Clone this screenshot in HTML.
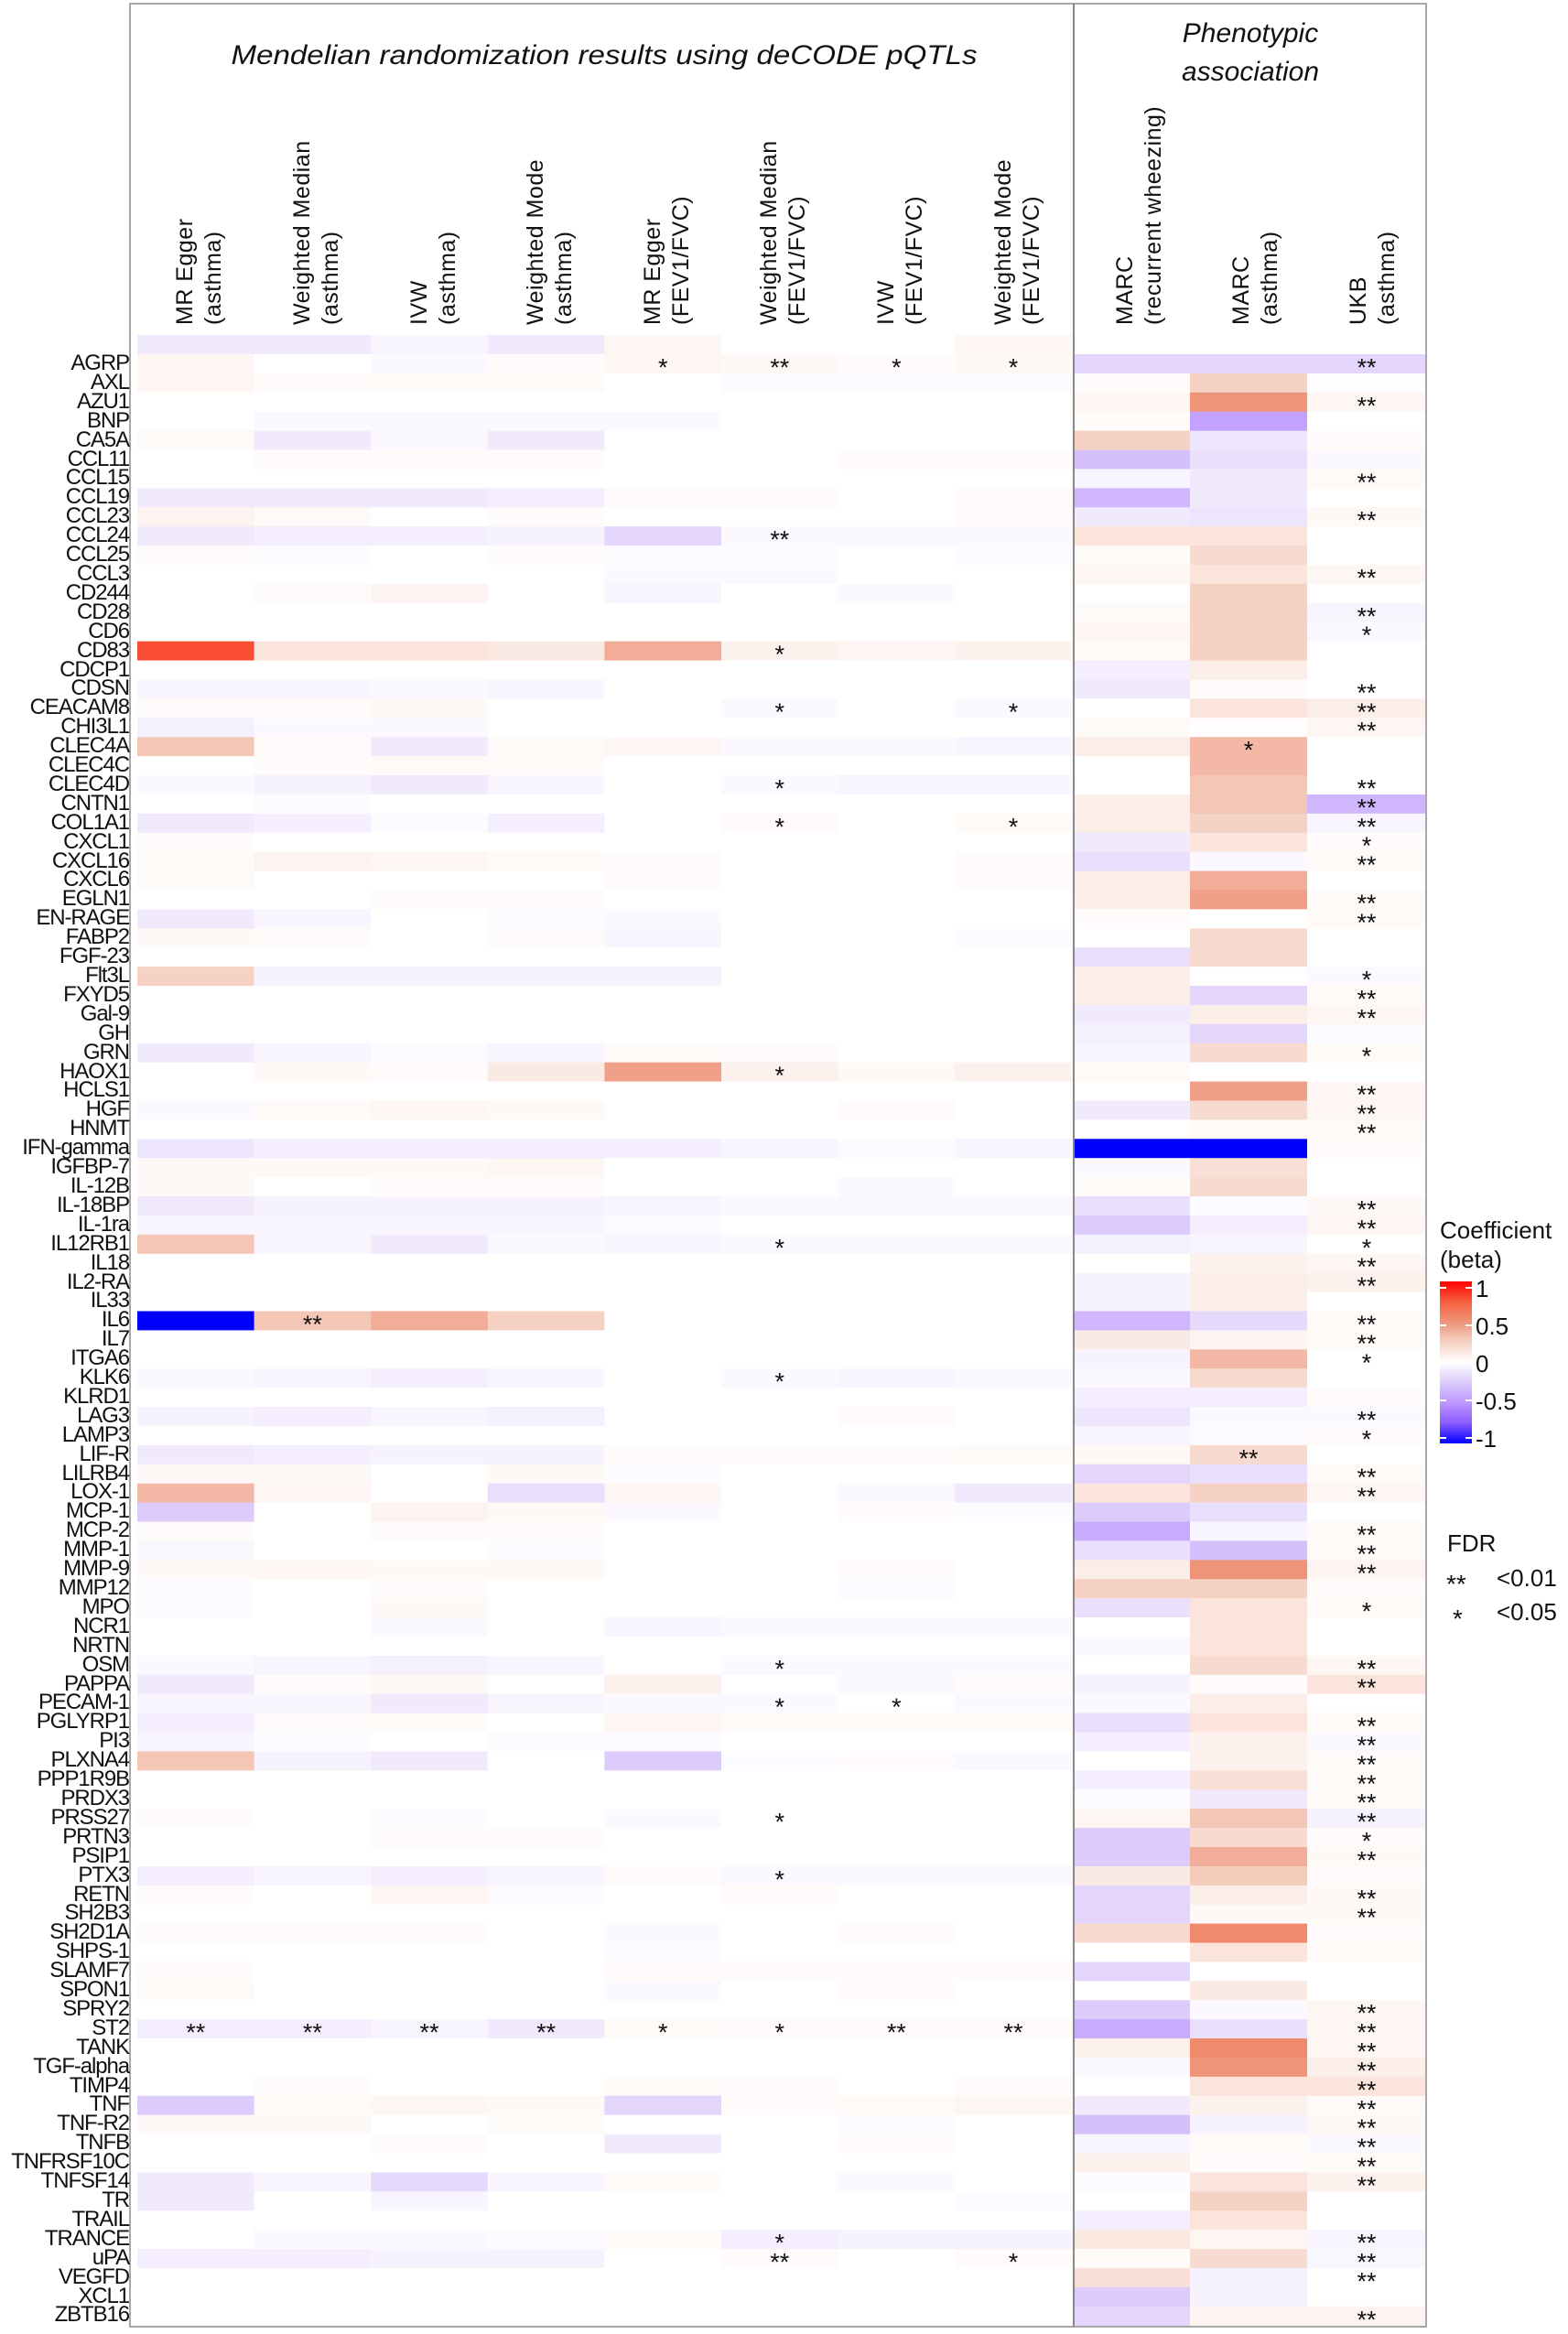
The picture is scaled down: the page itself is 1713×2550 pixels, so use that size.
<!DOCTYPE html>
<html><head><meta charset="utf-8">
<style>
html,body{margin:0;padding:0;background:#fff;}
body{width:1713px;height:2550px;position:relative;overflow:hidden;font-family:"Liberation Sans",Arial,sans-serif;}
#labels{position:absolute;left:0;top:387px;width:141px;text-align:right;font-size:24px;color:#111;}
#labels div{height:20.91px;line-height:20.91px;white-space:nowrap;letter-spacing:-1.1px;}
svg{position:absolute;left:0;top:0;}
</style></head><body>
<svg id="s" width="1713" height="2550" xmlns="http://www.w3.org/2000/svg" font-family="Liberation Sans, Arial, sans-serif">
<g id="cells"></g>
<rect x="142" y="4" width="1416" height="2538" fill="none" stroke="#a8a8a8" stroke-width="2"/>
<line x1="1173" y1="4" x2="1173" y2="2542" stroke="#888" stroke-width="2"/>
<text x="660" y="70" font-size="30" font-style="italic" text-anchor="middle" textLength="815" lengthAdjust="spacingAndGlyphs" fill="#111">Mendelian randomization results using deCODE pQTLs</text>
<text x="1366" y="46" font-size="30" font-style="italic" text-anchor="middle" fill="#111">Phenotypic</text>
<text x="1366" y="88" font-size="30" font-style="italic" text-anchor="middle" fill="#111">association</text>
<g font-size="25" fill="#111" letter-spacing="0.5">
<text transform="translate(210,355) rotate(-90)">MR Egger</text><text transform="translate(241,355) rotate(-90)">(asthma)</text>
<text transform="translate(338,355) rotate(-90)">Weighted Median</text><text transform="translate(369,355) rotate(-90)">(asthma)</text>
<text transform="translate(466,355) rotate(-90)">IVW</text><text transform="translate(497,355) rotate(-90)">(asthma)</text>
<text transform="translate(593,355) rotate(-90)">Weighted Mode</text><text transform="translate(624,355) rotate(-90)">(asthma)</text>
<text transform="translate(721,355) rotate(-90)">MR Egger</text><text transform="translate(752,355) rotate(-90)">(FEV1/FVC)</text>
<text transform="translate(848,355) rotate(-90)">Weighted Median</text><text transform="translate(879,355) rotate(-90)">(FEV1/FVC)</text>
<text transform="translate(976,355) rotate(-90)">IVW</text><text transform="translate(1007,355) rotate(-90)">(FEV1/FVC)</text>
<text transform="translate(1104,355) rotate(-90)">Weighted Mode</text><text transform="translate(1135,355) rotate(-90)">(FEV1/FVC)</text>
<text transform="translate(1237,355) rotate(-90)">MARC</text><text transform="translate(1268,355) rotate(-90)">(recurrent wheezing)</text>
<text transform="translate(1364,355) rotate(-90)">MARC</text><text transform="translate(1395,355) rotate(-90)">(asthma)</text>
<text transform="translate(1492,355) rotate(-90)">UKB</text><text transform="translate(1523,355) rotate(-90)">(asthma)</text>
</g>
<defs><linearGradient id="cb" x1="0" y1="0" x2="0" y2="1">
<stop offset="0" stop-color="#FF0000"/><stop offset="0.125" stop-color="#F6603F"/><stop offset="0.25" stop-color="#EE9479"/><stop offset="0.375" stop-color="#F6D2C4"/><stop offset="0.5" stop-color="#FFFFFF"/><stop offset="0.625" stop-color="#DCCBFB"/><stop offset="0.75" stop-color="#BD96FF"/><stop offset="0.875" stop-color="#8A5BFF"/><stop offset="1" stop-color="#0000FF"/>
</linearGradient></defs>
<rect x="1573" y="1400" width="35" height="177" fill="url(#cb)"/>
<g stroke="#fff" stroke-width="2">
<line x1="1573" y1="1407" x2="1580" y2="1407"/><line x1="1601" y1="1407" x2="1608" y2="1407"/>
<line x1="1573" y1="1448" x2="1580" y2="1448"/><line x1="1601" y1="1448" x2="1608" y2="1448"/>
<line x1="1573" y1="1489" x2="1580" y2="1489"/><line x1="1601" y1="1489" x2="1608" y2="1489"/>
<line x1="1573" y1="1530" x2="1580" y2="1530"/><line x1="1601" y1="1530" x2="1608" y2="1530"/>
<line x1="1573" y1="1571" x2="1580" y2="1571"/><line x1="1601" y1="1571" x2="1608" y2="1571"/>
</g>
<g font-size="26" fill="#111">
<text x="1573" y="1353">Coefficient</text>
<text x="1573" y="1385">(beta)</text>
<text x="1612" y="1417">1</text>
<text x="1612" y="1458">0.5</text>
<text x="1612" y="1499">0</text>
<text x="1612" y="1540">-0.5</text>
<text x="1612" y="1581">-1</text>
<text x="1581" y="1695">FDR</text>
<text x="1580" y="1740" font-size="28">**</text>
<text x="1635" y="1733">&lt;0.01</text>
<text x="1587" y="1778" font-size="28">*</text>
<text x="1635" y="1770">&lt;0.05</text>
</g>
<g id="stars" font-size="27" fill="#111" text-anchor="middle"></g>
</svg>
<div id="labels">
<div>AGRP</div><div>AXL</div><div>AZU1</div><div>BNP</div><div>CA5A</div><div>CCL11</div><div>CCL15</div><div>CCL19</div><div>CCL23</div><div>CCL24</div><div>CCL25</div><div>CCL3</div><div>CD244</div><div>CD28</div><div>CD6</div><div>CD83</div><div>CDCP1</div><div>CDSN</div><div>CEACAM8</div><div>CHI3L1</div><div>CLEC4A</div><div>CLEC4C</div><div>CLEC4D</div><div>CNTN1</div><div>COL1A1</div><div>CXCL1</div><div>CXCL16</div><div>CXCL6</div><div>EGLN1</div><div>EN-RAGE</div><div>FABP2</div><div>FGF-23</div><div>Flt3L</div><div>FXYD5</div><div>Gal-9</div><div>GH</div><div>GRN</div><div>HAOX1</div><div>HCLS1</div><div>HGF</div><div>HNMT</div><div>IFN-gamma</div><div>IGFBP-7</div><div>IL-12B</div><div>IL-18BP</div><div>IL-1ra</div><div>IL12RB1</div><div>IL18</div><div>IL2-RA</div><div>IL33</div><div>IL6</div><div>IL7</div><div>ITGA6</div><div>KLK6</div><div>KLRD1</div><div>LAG3</div><div>LAMP3</div><div>LIF-R</div><div>LILRB4</div><div>LOX-1</div><div>MCP-1</div><div>MCP-2</div><div>MMP-1</div><div>MMP-9</div><div>MMP12</div><div>MPO</div><div>NCR1</div><div>NRTN</div><div>OSM</div><div>PAPPA</div><div>PECAM-1</div><div>PGLYRP1</div><div>PI3</div><div>PLXNA4</div><div>PPP1R9B</div><div>PRDX3</div><div>PRSS27</div><div>PRTN3</div><div>PSIP1</div><div>PTX3</div><div>RETN</div><div>SH2B3</div><div>SH2D1A</div><div>SHPS-1</div><div>SLAMF7</div><div>SPON1</div><div>SPRY2</div><div>ST2</div><div>TANK</div><div>TGF-alpha</div><div>TIMP4</div><div>TNF</div><div>TNF-R2</div><div>TNFB</div><div>TNFRSF10C</div><div>TNFSF14</div><div>TR</div><div>TRAIL</div><div>TRANCE</div><div>uPA</div><div>VEGFD</div><div>XCL1</div><div>ZBTB16</div>
</div>
<script>
var D=[
"0.5,0,-.3,.2,.5,.4,.2,.4|-2,-2,-2|00001211002",
".5,.2,.3,.3,0,-.2,-.2,-.2|.2,2.5,-.1|",
"0,0,0,0,0,0,0,0|.5,5,.5|00000000002",
"0,-.3,-.3,-.3,-.3,0,0,0|.3,-4.5,0|",
".3,-1,-.3,-1,0,0,0,0|2.5,-1.2,.2|",
"0,.2,.2,.2,0,0,.2,.2|-3,-1.5,-.3|",
"0,0,0,0,0,0,0,0|-.5,-1,.3|00000000002",
"-1,-1,-1,-.8,.2,.2,0,.2|-3.5,-1,0|",
".6,.3,0,.2,0,0,0,.2|-1,-1.3,.4|00000000002",
"-1,-.8,-.8,-.6,-2,-.3,-.3,-.3|1.5,1.5,0|00000200000",
".2,-.2,0,.2,-.2,-.2,0,-.2|.3,2,0|",
"0,0,0,0,-.3,-.3,0,0|.5,1.5,.5|00000000002",
"0,.2,.6,0,-.5,0,-.3,0|0,2.5,0|",
"0,0,0,0,0,0,0,0|.3,2.5,-.5|00000000002",
"0,0,0,0,0,0,0,0|.5,2.5,-.3|00000000001",
"8,1.5,1.5,1.2,4,.8,.5,.8|.3,2.5,0|00000100000",
"0,0,0,0,0,0,0,0|-.8,1,0|",
"-.5,-.5,-.3,-.5,0,0,0,0|-1,.2,0|00000000002",
".2,.2,.4,0,0,-.3,0,-.3|0,1.5,1|00000101002",
"-.7,-.3,-.3,0,0,0,0,0|.3,.1,.5|00000000002",
"3,.2,-1,.3,.5,-.3,-.3,-.5|1,3.5,0|00000000010",
"0,.2,.3,.3,0,0,0,0|0,3.5,0|",
"-.3,-.6,-1,-.5,0,-.3,-.5,-.5|0,3,0|00000100002",
"0,-.2,0,0,0,0,0,0|1,3,-3.5|00000000002",
"-1,-.8,-.2,-.8,0,.2,0,.3|1,2.5,-.5|00000101002",
".2,0,0,0,0,0,0,0|-1,1.5,.2|00000000001",
".3,.6,.5,.3,.2,0,0,.2|-1.5,-.3,.3|00000000002",
".3,0,0,0,.2,0,0,.2|1,4,0|",
"0,0,.2,.2,0,0,0,0|1,4.5,.3|00000000002",
"-1,-.5,0,-.2,-.3,0,0,0|.2,0,.3|00000000002",
".4,.2,0,.2,-.5,0,0,-.2|0,2,0|",
"0,0,0,0,0,0,0,0|-1.5,2,0|",
"2.5,-.6,-.6,-.6,-.6,0,0,0|1,0,-.3|00000000001",
"0,0,0,0,0,0,0,0|1,-2,.3|00000000002",
"0,0,0,0,0,0,0,0|-1,1,.5|00000000002",
"0,0,0,0,0,0,0,0|-.7,-2,-.2|",
"-1,-.5,-.2,-.5,.3,.2,0,0|-.5,2,.3|00000000001",
"0,.4,.2,1.2,4.5,.8,.4,.8|.3,0,0|00000100000",
"0,0,0,0,0,0,0,0|0,4.5,.5|00000000002",
"-.3,.3,.5,.4,0,0,.2,0|-1,2,.5|00000000002",
"0,0,0,0,0,0,0,0|0,.3,.3|00000000002",
"-1.2,-.8,-.8,-.8,-.8,-.5,-.2,-.5|-10,-10,.2|",
".4,.4,.4,.5,0,0,0,0|-.3,1.8,0|",
".4,0,.2,.2,0,0,-.3,0|.3,2,0|",
"-1,-.6,-.6,-.6,-.5,-.3,-.3,-.3|-1.5,-.2,.4|00000000002",
"-.5,-.5,-.5,-.5,-.2,0,0,0|-2.5,-.8,.5|00000000002",
"3,-.5,-1,-.3,-.5,-.3,-.3,-.3|-.7,-.5,0|00000100001",
"0,0,0,0,0,0,0,0|0,.8,.5|00000000002",
"0,0,0,0,0,0,0,0|-.6,1,.8|00000000002",
"0,0,0,0,0,0,0,0|-.6,1,0|",
"-10,3,4,2.5,0,0,0,0|-3.5,-1.8,.3|02000000002",
"0,0,0,0,0,0,0,0|1.2,.6,.3|00000000002",
"0,0,0,0,0,0,0,0|-.6,3.5,0|00000000001",
"-.3,-.5,-.8,-.5,0,-.3,-.5,-.3|-.3,2,0|00000100000",
"0,0,0,0,0,0,0,0|-.8,-.8,.2|",
"-.6,-.8,-.5,-.7,0,0,.2,0|-1.2,-.3,-.3|00000000002",
"0,0,0,0,0,0,0,0|-.5,-.2,.2|00000000001",
"-1,-.8,-.6,-.6,.2,.2,.2,.3|.4,2,0|00000000020",
".4,.4,0,.4,-.2,0,0,0|-2,-1.5,.3|00000000002",
"3.5,.5,0,-1.5,.5,0,-.3,-1|1.5,2.5,.5|00000000002",
"-2.5,0,.6,.4,-.3,0,.2,-.2|-2.5,-1.5,0|",
".2,0,.2,.2,0,0,0,0|-4,-.5,.3|00000000002",
"-.4,0,0,-.2,0,0,0,0|-1.5,-3,.3|00000000002",
".4,.5,.4,.4,0,0,.2,0|1,5,.6|00000000002",
"-.2,0,.2,0,0,0,-.2,0|2.5,2.5,.2|",
"-.2,0,.4,0,0,0,0,0|-1.5,1.5,.3|00000000001",
"0,0,-.3,0,-.5,-.3,-.3,-.3|0,1.5,0|",
"0,0,0,0,0,0,0,0|-.3,1.5,0|",
"-.3,-.5,-.7,-.5,0,-.3,-.3,-.3|0,2,.5|00000100002",
"-1,.2,.4,0,.8,0,-.3,.2|-.6,.2,1.5|00000000002",
"-.5,-.5,-1,-.5,-.3,-.3,0,-.3|-.3,1,0|00000110000",
"-.8,.2,.3,0,.5,.3,.3,.3|-1.5,1.5,.3|00000000002",
"-.5,-.2,0,-.2,-.2,0,0,0|-.8,.8,-.3|00000000002",
"3,-.6,-1,0,-2.5,-.2,.2,-.3|0,.8,.3|00000000002",
"0,0,0,0,0,0,0,0|-.8,1.8,.3|00000000002",
"0,0,0,0,0,0,0,0|-.2,-1,.3|00000000002",
".2,0,-.2,0,-.3,0,0,0|.5,3,-.6|00000100002",
"0,0,.2,.2,0,0,0,0|-2.5,2,.2|00000000001",
"0,0,0,0,0,0,0,0|-2.5,4,.4|00000000002",
"-.8,-.5,-.8,-.5,.2,-.3,-.3,-.3|1.2,2.8,.2|00000100000",
".2,0,.5,-.2,0,.2,0,0|-2,1,.4|00000000002",
"0,0,0,0,0,0,0,0|-2,.4,.4|00000000002",
".2,.2,.2,0,-.3,0,.2,0|2,5.5,.2|",
"0,0,0,0,-.2,0,0,0|0,1.5,.3|",
".2,0,0,0,.2,.2,.2,.2|-2,0,0|",
".3,0,0,0,-.3,0,.2,0|0,1.2,0|",
"0,0,0,0,0,0,0,0|-2.5,-.3,.5|00000000002",
"-.8,-.8,-.5,-1,.3,.2,.2,.2|-4,-1.5,.5|22221122002",
"0,0,0,0,0,0,0,0|.8,5.5,.5|00000000002",
"0,0,0,0,0,0,0,0|-.3,5,1|00000000002",
"0,.2,0,0,.3,.2,0,.2|0,1.5,1.5|00000000002",
"-2.5,.3,.5,.4,-2,.2,.3,.5|-1,.8,.3|00000000002",
".4,.4,0,.3,0,0,-.2,0|-3,-.6,.4|00000000002",
"0,0,.2,0,-1,0,.2,0|-.5,.3,-.3|00000000002",
"0,0,0,0,0,0,0,0|.8,.2,.3|00000000002",
"-1,-.5,-1.8,-.5,.3,0,-.3,0|-.2,1.5,.8|00000000002",
"-1,0,-.5,0,0,0,0,-.2|0,2.5,0|",
"0,0,0,0,0,0,0,0|-.8,1.5,0|",
"0,-.3,-.3,-.2,.3,-.8,-.6,-.6|1.3,.5,-.5|00000100002",
"-.8,-.8,-.6,-.6,0,.2,0,.2|.3,2,-.4|00000201002",
"0,0,0,0,0,0,0,0|1.8,-.6,0|00000000002",
"0,0,0,0,0,0,0,0|-2.5,-.6,0|",
"0,0,0,0,0,0,0,0|-2,.6,.6|00000000002"
];
var PS=[[0,[255,255,255]],[.25,[246,210,196]],[.5,[238,148,121]],[.75,[246,96,63]],[1,[255,0,0]]];
var NS=[[0,[255,255,255]],[.25,[220,203,251]],[.5,[189,150,255]],[.75,[138,91,255]],[1,[0,0,255]]];
function col(v){var s=v>=0?PS:NS;var t=Math.min(1,Math.abs(v));for(var i=1;i<s.length;i++){if(t<=s[i][0]){var a=s[i-1],b=s[i],f=(t-a[0])/(b[0]-a[0]);return 'rgb('+[0,1,2].map(function(k){return Math.round(a[1][k]+(b[1][k]-a[1][k])*f)}).join(',')+')';}}return 'rgb(255,0,0)';}
var NSv="http://www.w3.org/2000/svg";
var cells=document.getElementById('cells'),stars=document.getElementById('stars');
var LX=150,LW=127.6,RX=[1173,1300,1428],RW=[127,128,130],Y0=387,RH=20.91;
function rect(x,y,w,h,c){var r=document.createElementNS(NSv,'rect');r.setAttribute('x',x);r.setAttribute('y',y);r.setAttribute('width',w+0.6);r.setAttribute('height',h+0.6);r.setAttribute('fill',c);cells.appendChild(r);}
var hdr=[-1,-1,-.5,-1,.5,0,0,.5];
hdr.forEach(function(v,j){rect(LX+j*LW,366,LW,21,col(v/10));});
D.forEach(function(row,i){var p=row.split('|');var L=p[0].split(',').map(Number),R=p[1].split(',').map(Number),S=p[2]||'';var y=Y0+i*RH;
L.forEach(function(v,j){rect(LX+j*LW,y,LW,RH,col(v/10));});
R.forEach(function(v,j){rect(RX[j],y,RW[j],RH,col(v/10));});
for(var k=0;k<S.length;k++){var n=+S[k];if(!n)continue;var cx=k<8?LX+k*LW+LW/2:RX[k-8]+RW[k-8]/2;var t=document.createElementNS(NSv,'text');t.setAttribute('x',cx);t.setAttribute('y',y+RH/2+13);t.textContent=n==2?'**':'*';stars.appendChild(t);}
});
</script>
</body></html>
